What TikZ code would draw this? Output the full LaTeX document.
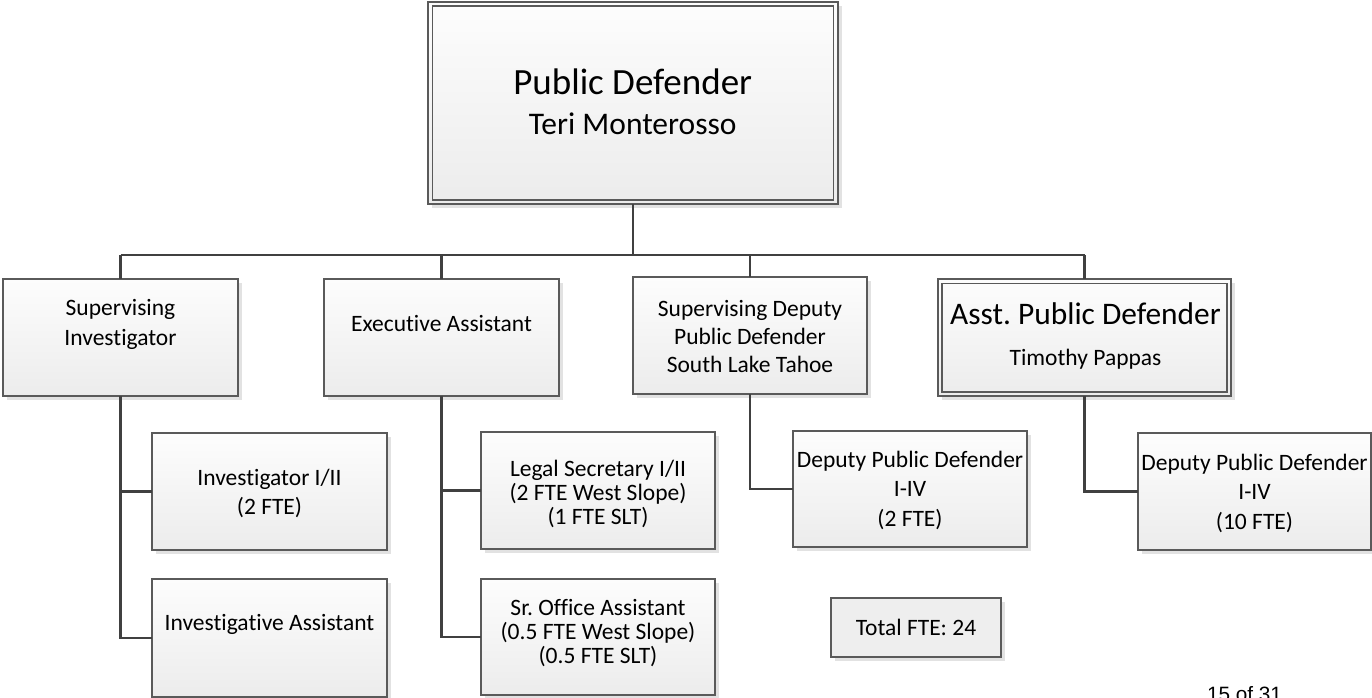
\documentclass[tikz,border=0pt]{standalone}
\usepackage{fontspec}
\setmainfont{Carlito}[Ligatures=CommonOff]
\newfontfamily\pagefont{Liberation Sans}
\frenchspacing
\usetikzlibrary{shadows}
\definecolor{bordc}{HTML}{5A5A5A}
\definecolor{connc}{HTML}{404040}
\definecolor{topc}{HTML}{FDFDFD}
\definecolor{botc}{HTML}{ECECEC}
\definecolor{shadc}{HTML}{E2E2E2}
\definecolor{flatc}{HTML}{EEEEEE}
\tikzset{
  box/.style={draw=bordc, line width=1.1pt, top color=topc, bottom color=botc,
    inner sep=0pt, outer sep=0pt, anchor=north west,
    drop shadow={shadow xshift=4pt, shadow yshift=-4pt, fill=shadc, opacity=1}},
  flatbox/.style={box, top color=flatc, bottom color=flatc},
  innerframe/.style={draw=bordc, line width=1.1pt},
  conn/.style={draw=connc, line width=2.8pt},
  txt/.style={anchor=base, inner sep=0pt, font=\fontsize{23.5}{28}\selectfont},
  bigtxt/.style={txt, font=\fontsize{37}{44}\selectfont},
  midtxt/.style={txt, font=\fontsize{31.4}{38}\selectfont},
  pagetxt/.style={anchor=base, inner sep=0pt, font=\pagefont\fontsize{20.75}{25}\selectfont}
}
\begin{document}
\begin{tikzpicture}[x=1pt, y=-1pt]
\useasboundingbox (0,0) rectangle (1372,698);
\clip (0,0) rectangle (1372,698);

% boxes
\node[box, minimum width=410pt, minimum height=202pt] (pd) at (428,2) {};
\draw[innerframe] ([shift={(4.5,4)}]pd.north west) rectangle ([shift={(-4.5,-4)}]pd.south east);
\node[box, minimum width=235pt, minimum height=117pt] (si) at (3,279) {};
\node[box, minimum width=235pt, minimum height=117pt] (ea) at (324,279) {};
\node[box, minimum width=234pt, minimum height=117pt] (sd) at (633,277) {};
\node[box, minimum width=293pt, minimum height=117pt] (ap) at (938,279) {};
\draw[innerframe] ([shift={(4,4.5)}]ap.north west) rectangle ([shift={(-4,-4)}]ap.south east);
\node[box, minimum width=235pt, minimum height=117pt] (ii) at (152,433) {};
\node[box, minimum width=235pt, minimum height=118pt] (ia) at (152,579) {};
\node[box, minimum width=234pt, minimum height=117pt] (ls) at (481,432) {};
\node[box, minimum width=234pt, minimum height=116pt] (so) at (481,579) {};
\node[box, minimum width=234pt, minimum height=116pt] (d2) at (793,431) {};
\node[box, minimum width=233pt, minimum height=117pt] (d10) at (1138,433) {};
\node[flatbox, minimum width=170pt, minimum height=59pt] (tot) at (831,598) {};

% connectors
\coordinate (bus) at (0,255);
\draw[conn] (pd.south) -- (pd.south |- bus);
\draw[conn] (si.north |- bus) -- (ap.north |- bus);
\draw[conn] (si.north |- bus) -- (si.north);
\draw[conn] (ea.north |- bus) -- (ea.north);
\draw[conn] (sd.north |- bus) -- (sd.north);
\draw[conn] (ap.north |- bus) -- (ap.north);
\draw[conn] (si.south) |- (ii.west);
\draw[conn] (si.south) |- (ia.west);
\draw[conn] (ea.south) |- (ls.west);
\draw[conn] (ea.south) |- (so.west);
\draw[conn] (sd.south) |- (d2.west);
\draw[conn] (ap.south) |- (d10.west);

% texts
\node[bigtxt] (pd-1) at (632.7,94.3) {Public Defender};
\node[midtxt, font=\fontsize{31.5}{38}\selectfont] (pd-2) at (632.7,134.3) {Teri Monterosso};

\node[txt] (si-1) at (120.5,315.7) {Supervising};
\node[txt] (si-2) at (120.5,345.7) {Investigator};

\node[txt] (ea-1) at (441.5,331) {Executive Assistant};

\node[txt] (sd-1) at (750,316) {Supervising Deputy};
\node[txt] (sd-2) at (750,344.5) {Public Defender};
\node[txt] (sd-3) at (750,372.5) {South Lake Tahoe};

\node[midtxt] (ap-1) at (1085.5,324.5) {Asst. Public Defender};
\node[txt] (ap-2) at (1085.5,365) {Timothy Pappas};

\node[txt] (ii-1) at (269.5,485) {Investigator I/II};
\node[txt] (ii-2) at (269.5,514.5) {(2 FTE)};

\node[txt] (ia-1) at (269.5,630) {Investigative Assistant};

\node[txt] (ls-1) at (598,476) {Legal Secretary I/II};
\node[txt] (ls-2) at (598,500.3) {(2 FTE West Slope)};
\node[txt] (ls-3) at (598,524.5) {(1 FTE SLT)};

\node[txt] (so-1) at (598,615) {Sr. Office Assistant};
\node[txt] (so-2) at (598,639.3) {(0.5 FTE West Slope)};
\node[txt] (so-3) at (598,663.5) {(0.5 FTE SLT)};

\node[txt] (d2-1) at (910,467) {Deputy Public Defender};
\node[txt] (d2-2) at (910,496.5) {I-IV};
\node[txt] (d2-3) at (910,526) {(2 FTE)};

\node[txt] (d10-1) at (1254.5,470) {Deputy Public Defender};
\node[txt] (d10-2) at (1254.5,499.5) {I-IV};
\node[txt] (d10-3) at (1254.5,529) {(10 FTE)};

\node[txt] (tot-1) at (916,635) {Total FTE: 24};

\node[pagetxt] (page) at (1244.5,701) {15 of 31};
\end{tikzpicture}
\end{document}
